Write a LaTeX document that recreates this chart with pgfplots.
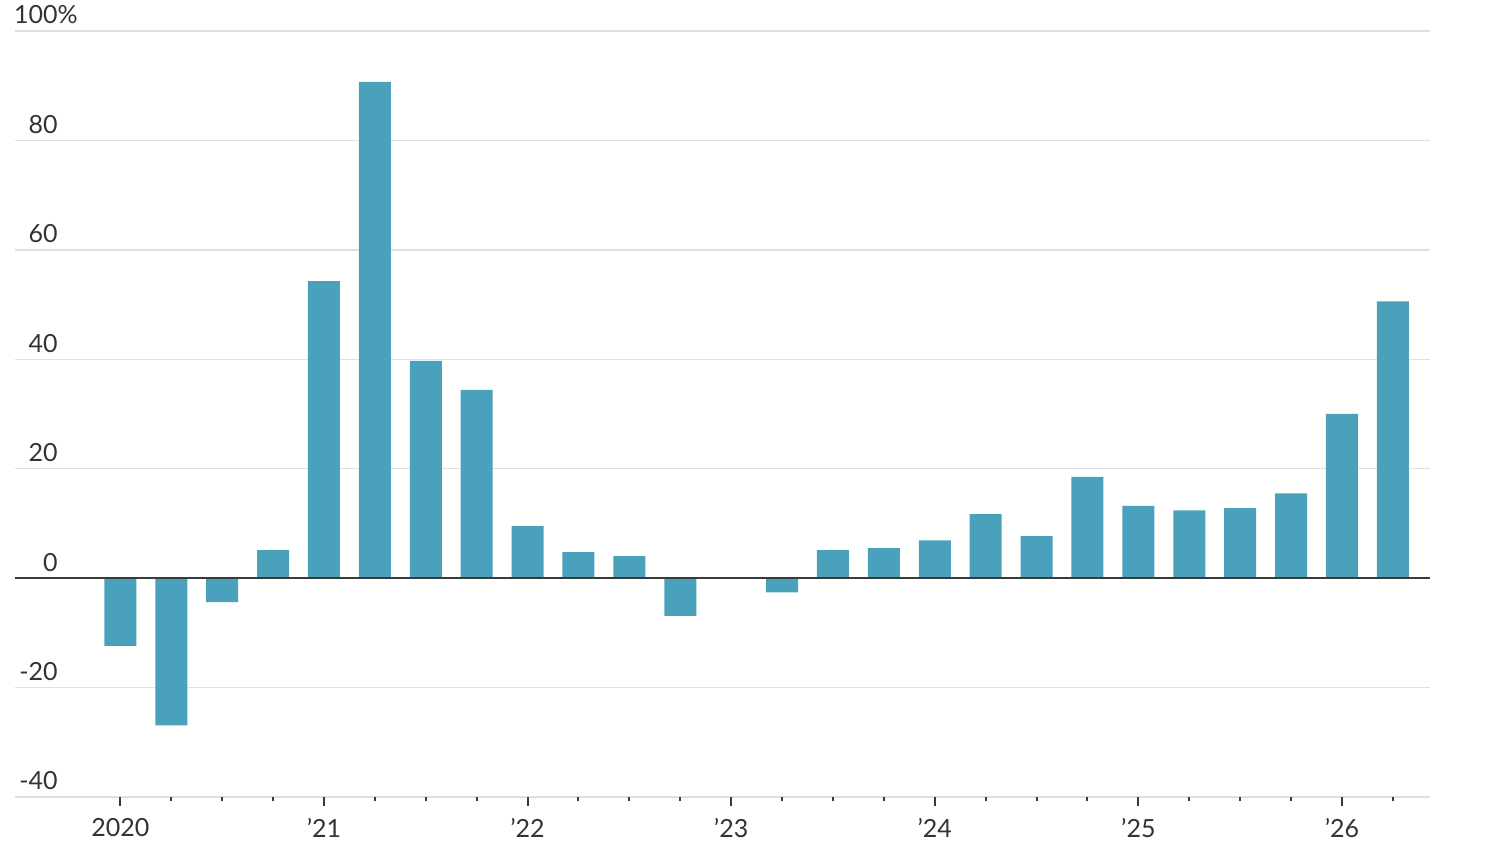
\documentclass[border=0pt]{standalone}
\usepackage{pgfplots}
\pgfplotsset{compat=1.18}
\usepackage{fontspec}
\setmainfont{Lato}
\definecolor{barc}{HTML}{4AA1BB}
\definecolor{gridc}{HTML}{E0E0E0}
\definecolor{txt}{HTML}{333333}
\definecolor{zeroc}{HTML}{3A3A3A}
\begin{document}
\fontsize{12.5}{15}\selectfont
\begin{tikzpicture}
\useasboundingbox (-7.5pt,-26.5pt) rectangle (742.5pt,398.5pt);
\begin{axis}[
  scale only axis,
  width=707.5pt, height=383pt,
  xmin=-2.07, xmax=25.73,
  ymin=-40, ymax=100,
  axis line style={draw=none},
  ytick={-40,-20,0,20,40,60,80,100},
  yticklabels={-40,-20,0,20,40,60,80,100\rlap{\%}},
  ytick style={draw=none},
  ymajorgrids,
  grid style={gridc, line width=0.7pt},
  yticklabel style={anchor=base east, inner sep=0pt, xshift=21.5pt, yshift=3.5pt, text=txt},
  xtick={0,4,8,12,16,20,24},
  xticklabels={2020,’21,’22,’23,’24,’25,’26},
  minor xtick={1,2,3,5,6,7,9,10,11,13,14,15,17,18,19,21,22,23,25},
  xtick pos=bottom,
  xtick align=outside,
  major tick length=4.5pt,
  minor tick length=2pt,
  major x tick style={draw=zeroc, line width=1pt},
  minor x tick style={draw=zeroc, line width=1pt},
  xticklabel style={anchor=north, inner sep=0pt, yshift=-6pt, text=txt},
  /pgf/number format/assume math mode=true,
  clip=false,
]
\addplot[ybar, bar width=16pt, fill=barc, draw=none] coordinates {
(0,-12.4) (1,-26.9) (2,-4.4) (3,5.1) (4,54.3) (5,90.7) (6,39.7) (7,34.4)
(8,9.5) (9,4.75) (10,4.0) (11,-6.9) (12,0) (13,-2.6) (14,5.1) (15,5.5)
(16,6.9) (17,11.7) (18,7.7) (19,18.5) (20,13.2) (21,12.4) (22,12.8) (23,15.5)
(24,30.0) (25,50.6)
};
\draw[zeroc, line width=1pt] ({rel axis cs:0,0}|-{axis cs:0,0}) -- ({rel axis cs:1,0}|-{axis cs:0,0});
\end{axis}
\end{tikzpicture}
\end{document}
